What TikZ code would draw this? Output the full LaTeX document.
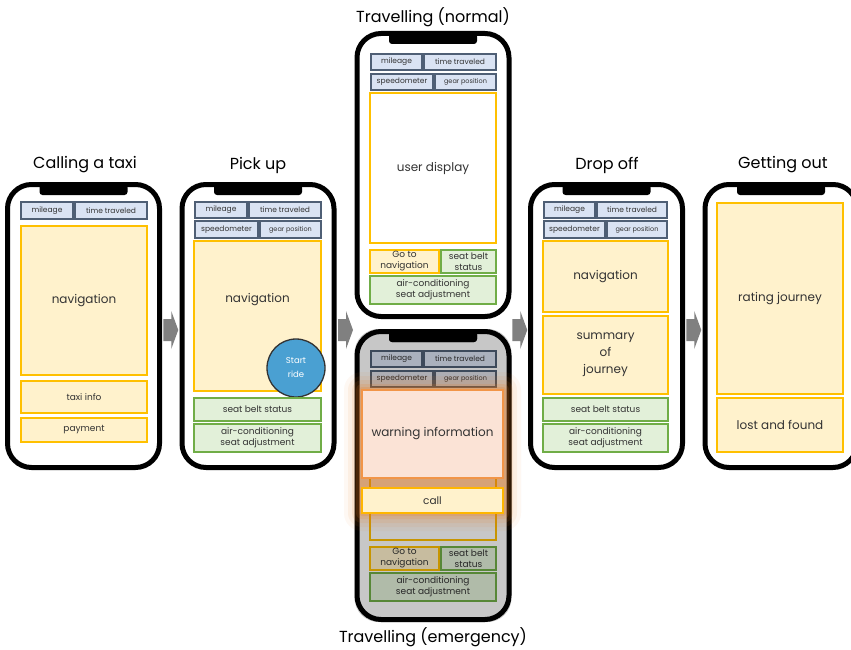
\documentclass[tikz,border=0pt]{standalone}
\usepackage{fontspec}
\setmainfont{Poppins}
\usetikzlibrary{calc}
\definecolor{bluefill}{HTML}{DAE3F3}
\definecolor{blueline}{HTML}{4F5F75}
\definecolor{yelfill}{HTML}{FFF2CC}
\definecolor{yelline}{HTML}{FFC000}
\definecolor{grnfill}{HTML}{E2F0D9}
\definecolor{grnline}{HTML}{70AD47}
\definecolor{warnfill}{HTML}{FBE3D6}
\definecolor{glowcol}{HTML}{EE7A1A}
\definecolor{startblue}{HTML}{4AA0D2}
\definecolor{arrowgray}{HTML}{808080}
\definecolor{txt}{HTML}{333333}
\tikzset{
  phone/.style={draw=black, fill=white, line width=5pt, rounded corners=24pt, minimum width=152pt, inner sep=0pt},
  notch/.style={fill=black},
  boxbase/.style={inner sep=0pt, outer sep=0pt, line width=1.3pt, text=txt, align=center},
  bluebox/.style={boxbase, fill=bluefill, draw=blueline, font=\fontsize{7.5}{9}\selectfont},
  bluesmall/.style={bluebox, font=\fontsize{6.5}{8}\selectfont},
  yelbox/.style={boxbase, fill=yelfill, draw=yelline},
  grnbox/.style={boxbase, fill=grnfill, draw=grnline},
  big/.style={font=\fontsize{12}{17}\selectfont},
  mid/.style={font=\fontsize{9}{11}\selectfont},
  title/.style={font=\fontsize{16}{19}\selectfont, text=black},
}
\newcommand{\bx}[7]{\node[#1,minimum width={#5-#3},minimum height={#6-#4}] (#2) at ({(#3+#5)/2},{(#4+#6)/2}) {#7};}
\newcommand{\mkphone}[4]{%
  \node[phone, minimum height={#4-#3}] (#1) at (#2,{(#3+#4)/2}) {};
  \fill[notch, rounded corners=3pt] ({#2-44},{#3}) -- ({#2-44},{#3+10.5}) -- ({#2+44},{#3+10.5}) -- ({#2+44},{#3}) -- cycle;
}
\newcommand{\blockarrow}[1]{%
  \fill[arrowgray, shift={(#1)}] (-7.5,-11) -- (0.5,-11) -- (0.5,-19) -- (7.5,0) -- (0.5,19) -- (0.5,11) -- (-7.5,11) -- cycle;
}
\begin{document}
\begin{tikzpicture}[x=1pt,y=-1pt]
\useasboundingbox (0,0) rectangle (851,650);
\clip (0,0) rectangle (851,650);
\fill[white] (0,0) rectangle (851,650);

% titles
\node[title] (t1) at (85,165) {Calling a taxi};
\node[title] (t2) at (258,165) {Pick up};
\node[title] (t3) at (433,17) {Travelling (normal)};
\node[title] (t4) at (433,637) {Travelling (emergency)};
\node[title] (t5) at (607,165) {Drop off};
\node[title] (t6) at (783,165) {Getting out};

% phone 1
\mkphone{ph1}{83.5}{184.5}{467.5}
\bx{bluebox}{m1}{21}{202}{73}{219}{mileage}
\bx{bluebox}{tt1}{75}{202}{147}{219}{time traveled}
\bx{yelbox,big}{nav1}{21}{226}{147}{375}{navigation}
\bx{yelbox,mid}{taxi1}{21}{381}{147}{413}{taxi info}
\bx{yelbox,mid}{pay1}{21}{418}{147}{442}{payment}

% phone 2
\mkphone{ph2}{258}{184.5}{467.5}
\bx{bluebox}{m2}{195}{202}{247}{218}{mileage}
\bx{bluebox}{tt2}{249}{202}{321}{218}{time traveled}
\bx{bluebox}{sp2}{195}{221}{258}{238}{speedometer}
\bx{bluesmall}{gp2}{260}{221}{321}{238}{gear position}
\bx{yelbox,big}{nav2}{194}{241}{321}{391}{\raisebox{36pt}{navigation}}
\node[circle, fill=startblue, draw=black!80, line width=1.3pt, minimum size=58pt, inner sep=0pt, text=white, align=center, font=\fontsize{8.5}{14}\selectfont] (start) at (296,368) {Start\\ride};
\bx{grnbox,mid}{sb2}{194}{398}{321}{421}{seat belt status}
\bx{grnbox,mid}{ac2}{194}{424}{321}{452}{air-conditioning\\seat adjustment}

% phone 3
\mkphone{ph3}{433}{33.5}{316.5}
\bx{bluebox}{m3}{371}{54}{422}{70}{mileage}
\bx{bluebox}{tt3}{424}{54}{496}{70}{time traveled}
\bx{bluebox}{sp3}{371}{74}{433}{90}{speedometer}
\bx{bluesmall}{gp3}{435}{74}{496}{90}{gear position}
\node[boxbase, draw=yelline, fill=white, big, minimum width=126pt, minimum height=150pt] (ud3) at (433,168) {user display};
\bx{yelbox,mid}{gn3}{370}{250}{439}{273}{Go to\\navigation}
\bx{grnbox,mid}{sb3}{441}{250}{496}{273}{seat belt\\status}
\bx{grnbox,mid}{ac3}{370}{276}{496}{304}{air-conditioning\\seat adjustment}

% phone 4 (emergency)
\mkphone{ph4}{433}{331.5}{619.5}
\bx{bluebox}{m4}{371}{351}{422}{367}{mileage}
\bx{bluebox}{tt4}{424}{351}{496}{367}{time traveled}
\bx{bluebox}{sp4}{371}{371}{433}{387}{speedometer}
\bx{bluesmall}{gp4}{435}{371}{496}{387}{gear position}
\node[boxbase, draw=yelline, fill=white, minimum width=126pt, minimum height=150pt] (ud4) at (433,465) {};
\bx{yelbox,mid}{gn4}{370}{547}{439}{570}{Go to\\navigation}
\bx{grnbox,mid}{sb4}{441}{547}{496}{570}{seat belt\\status}
\bx{grnbox,mid}{ac4}{370}{573}{496}{601}{air-conditioning\\seat adjustment}
\fill[black, opacity=0.22, rounded corners=24pt] (ph4.south west) rectangle (ph4.north east);
\fill[notch, rounded corners=3pt] (389,331.5) -- (389,342) -- (477,342) -- (477,331.5) -- cycle;
\coordinate (gl1) at (362,390);
\coordinate (gl2) at (503,513);
\foreach \e/\o in {18/0.05,14/0.07,10/0.1,6/0.14,3/0.2}{
  \fill[glowcol, opacity=\o, rounded corners=\e pt] ($(gl1)+(-\e,-\e)$) rectangle ($(gl2)+(\e,\e)$);
}
\bx{boxbase,big,fill=warnfill,draw=glowcol!80,line width=1.2pt}{warn}{362}{390}{503}{478}{warning information}
\bx{yelbox,font=\fontsize{10.5}{12}\selectfont, line width=1.8pt, draw=yelline!85!orange}{call}{362}{488}{503}{513}{call}

% phone 5
\mkphone{ph5}{606.5}{184.5}{467.5}
\bx{bluebox}{m5}{544}{202}{595}{218}{mileage}
\bx{bluebox}{tt5}{597}{202}{667}{218}{time traveled}
\bx{bluebox}{sp5}{544}{221}{605}{238}{speedometer}
\bx{bluesmall}{gp5}{607}{221}{667}{238}{gear position}
\bx{yelbox,big}{nav5}{543}{241}{668}{312}{navigation}
\bx{yelbox,big}{sum5}{543}{316}{668}{394}{summary\\of\\journey}
\bx{grnbox,mid}{sb5}{543}{398}{668}{421}{seat belt status}
\bx{grnbox,mid}{ac5}{543}{424}{668}{452}{air-conditioning\\seat adjustment}

% phone 6
\mkphone{ph6}{781}{184.5}{467.5}
\bx{yelbox,big}{rate6}{717}{203}{843}{394}{rating journey}
\bx{yelbox,big}{lost6}{717}{398}{843}{452}{lost and found}

% arrows
\coordinate (a1) at ($(ph1.east)!0.5!(ph2.west)+(0,4)$);
\coordinate (a2) at ($(ph2.east)!0.5!(ph3.west|-ph2.east)+(0,4)$);
\coordinate (a3) at ($(ph3.east|-ph5.west)!0.5!(ph5.west)+(0,4)$);
\coordinate (a4) at ($(ph5.east)!0.5!(ph6.west)+(0,4)$);
\blockarrow{a1}
\blockarrow{a2}
\blockarrow{a3}
\blockarrow{a4}
\end{tikzpicture}
\end{document}
